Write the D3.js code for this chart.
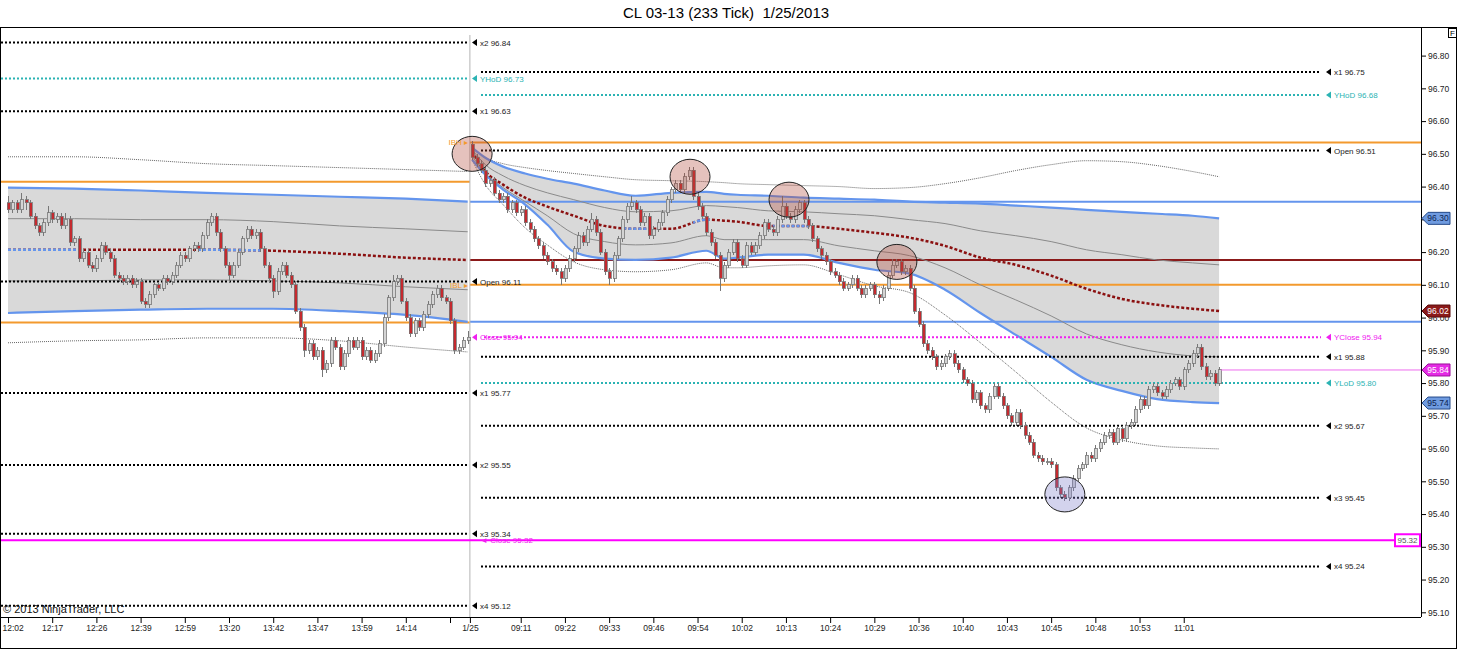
<!DOCTYPE html>
<html>
<head>
<meta charset="utf-8">
<script src="https://cdn.jsdelivr.net/npm/d3@7/dist/d3.min.js"></script>
<style>
body { margin: 0; background: #fff; }
text { font-family: "Liberation Sans", Arial, sans-serif; }
</style>
</head>
<body>
<script>
// ---- bars (233 tick), index 0..104 = 1/24 session, 105..274 = 1/25 session
var barOpen = [
 96.35,96.33,96.35,96.33,96.36,96.35,96.31,96.28,96.26,96.29,
 96.32,96.30,96.31,96.28,96.30,96.23,96.24,96.18,96.20,96.16,
 96.15,96.18,96.22,96.20,96.18,96.13,96.12,96.11,96.12,96.10,
 96.11,96.05,96.04,96.07,96.10,96.09,96.12,96.11,96.13,96.16,
 96.19,96.18,96.21,96.22,96.21,96.25,96.29,96.31,96.26,96.21,
 96.16,96.13,96.16,96.20,96.24,96.27,96.25,96.26,96.21,96.16,
 96.12,96.08,96.14,96.16,96.13,96.10,96.02,95.97,95.90,95.92,
 95.88,95.90,95.84,95.86,95.93,95.91,95.85,95.89,95.93,95.91,
 95.93,95.88,95.90,95.87,95.89,95.92,96.00,96.06,96.11,96.12,
 96.05,96.00,95.95,95.99,95.97,96.01,96.04,96.07,96.09,96.06,
 96.05,95.99,95.90,95.91,95.93,
 96.53,96.49,96.47,96.45,96.41,96.42,96.38,96.36,96.37,96.33,
 96.35,96.32,96.33,96.29,96.27,96.24,96.22,96.19,96.17,96.15,
 96.14,96.12,96.15,96.18,96.21,96.25,96.23,96.27,96.30,96.26,
 96.20,96.14,96.12,96.19,96.24,96.30,96.34,96.35,96.33,96.29,
 96.31,96.25,96.27,96.29,96.32,96.36,96.39,96.41,96.39,96.43,
 96.45,96.37,96.34,96.31,96.26,96.23,96.19,96.12,96.16,96.20,
 96.23,96.18,96.16,96.22,96.20,96.22,96.25,96.29,96.27,96.26,
 96.30,96.34,96.31,96.30,96.33,96.35,96.30,96.28,96.24,96.21,
 96.19,96.17,96.14,96.13,96.11,96.09,96.10,96.12,96.09,96.07,
 96.09,96.10,96.07,96.06,96.09,96.13,96.16,96.17,96.14,96.15,
 96.09,96.02,95.98,95.92,95.90,95.88,95.85,95.86,95.88,95.89,
 95.86,95.84,95.81,95.80,95.75,95.77,95.73,95.72,95.76,95.79,
 95.76,95.73,95.70,95.68,95.71,95.67,95.64,95.62,95.58,95.57,
 95.56,95.56,95.55,95.48,95.46,95.45,95.48,95.51,95.54,95.55,
 95.58,95.57,95.60,95.62,95.64,95.65,95.62,95.66,95.63,95.67,
 95.68,95.72,95.75,95.73,95.78,95.79,95.77,95.76,95.78,95.80,
 95.81,95.79,95.84,95.86,95.89,95.91,95.85,95.82,95.83,95.80
];
var barHigh = [
 96.37,96.36,96.36,96.38,96.37,96.36,96.32,96.29,96.30,96.34,
 96.33,96.32,96.32,96.32,96.31,96.25,96.25,96.21,96.21,96.17,
 96.19,96.23,96.23,96.21,96.19,96.14,96.13,96.13,96.13,96.12,
 96.12,96.06,96.08,96.11,96.11,96.13,96.13,96.14,96.17,96.20,
 96.20,96.22,96.23,96.23,96.26,96.30,96.32,96.32,96.27,96.22,
 96.17,96.17,96.21,96.25,96.28,96.28,96.27,96.27,96.22,96.17,
 96.13,96.15,96.17,96.17,96.14,96.11,96.03,95.98,95.93,95.93,
 95.91,95.91,95.87,95.94,95.94,95.92,95.90,95.94,95.94,95.94,
 95.94,95.91,95.91,95.90,95.93,96.01,96.07,96.13,96.13,96.13,
 96.06,96.01,96.00,96.00,96.02,96.05,96.08,96.10,96.10,96.07,
 96.06,96.00,95.92,95.94,95.96,
 96.54,96.50,96.48,96.46,96.43,96.43,96.39,96.38,96.38,96.36,
 96.36,96.34,96.34,96.30,96.28,96.25,96.23,96.20,96.18,96.16,
 96.15,96.16,96.19,96.22,96.26,96.26,96.28,96.32,96.31,96.27,
 96.21,96.15,96.20,96.25,96.31,96.35,96.37,96.36,96.34,96.32,
 96.32,96.28,96.30,96.33,96.37,96.40,96.42,96.42,96.44,96.46,
 96.46,96.38,96.35,96.32,96.27,96.24,96.20,96.17,96.21,96.24,
 96.24,96.19,96.23,96.23,96.23,96.26,96.30,96.30,96.28,96.31,
 96.37,96.35,96.32,96.34,96.36,96.36,96.31,96.29,96.25,96.22,
 96.20,96.18,96.15,96.14,96.12,96.11,96.13,96.13,96.10,96.10,
 96.11,96.11,96.08,96.10,96.14,96.18,96.18,96.18,96.16,96.16,
 96.10,96.03,95.99,95.93,95.91,95.89,95.87,95.89,95.90,95.90,
 95.87,95.85,95.82,95.81,95.78,95.78,95.74,95.77,95.80,95.80,
 95.77,95.74,95.71,95.72,95.72,95.68,95.65,95.63,95.59,95.58,
 95.57,95.57,95.56,95.49,95.47,95.49,95.52,95.55,95.56,95.59,
 95.59,95.61,95.63,95.65,95.66,95.66,95.67,95.67,95.68,95.69,
 95.73,95.76,95.76,95.79,95.80,95.80,95.78,95.79,95.81,95.82,
 95.82,95.85,95.87,95.90,95.92,95.92,95.86,95.84,95.84,95.85
];
var barLow = [
 96.32,96.32,96.32,96.32,96.33,96.30,96.27,96.25,96.25,96.28,
 96.29,96.29,96.27,96.27,96.22,96.22,96.17,96.17,96.15,96.14,
 96.14,96.17,96.19,96.17,96.12,96.11,96.10,96.10,96.09,96.09,
 96.04,96.03,96.03,96.06,96.08,96.08,96.10,96.10,96.12,96.15,
 96.17,96.17,96.20,96.20,96.20,96.24,96.28,96.25,96.20,96.15,
 96.11,96.12,96.15,96.19,96.23,96.24,96.24,96.20,96.15,96.11,
 96.06,96.07,96.13,96.12,96.09,96.01,95.96,95.88,95.89,95.87,
 95.87,95.82,95.83,95.85,95.90,95.84,95.84,95.88,95.90,95.90,
 95.87,95.87,95.86,95.86,95.88,95.91,95.99,96.05,96.10,96.04,
 95.99,95.94,95.94,95.96,95.96,96.00,96.03,96.06,96.05,96.04,
 95.98,95.89,95.89,95.90,95.92,
 96.48,96.46,96.44,96.40,96.40,96.37,96.35,96.35,96.32,96.32,
 96.31,96.31,96.28,96.26,96.23,96.21,96.18,96.16,96.14,96.13,
 96.10,96.11,96.14,96.17,96.20,96.22,96.22,96.26,96.25,96.19,
 96.13,96.10,96.11,96.18,96.23,96.29,96.33,96.32,96.28,96.28,
 96.24,96.24,96.26,96.28,96.31,96.35,96.38,96.38,96.38,96.42,
 96.36,96.33,96.30,96.25,96.22,96.18,96.08,96.11,96.15,96.19,
 96.17,96.15,96.15,96.19,96.19,96.21,96.24,96.26,96.25,96.25,
 96.29,96.30,96.29,96.29,96.32,96.29,96.27,96.23,96.20,96.18,
 96.16,96.13,96.12,96.10,96.08,96.08,96.09,96.08,96.06,96.06,
 96.08,96.06,96.04,96.05,96.08,96.12,96.15,96.13,96.13,96.08,
 96.01,95.97,95.91,95.89,95.87,95.84,95.84,95.85,95.87,95.85,
 95.83,95.80,95.79,95.74,95.74,95.72,95.71,95.71,95.75,95.75,
 95.72,95.69,95.67,95.67,95.66,95.63,95.61,95.57,95.56,95.55,
 95.55,95.54,95.47,95.45,95.44,95.44,95.47,95.50,95.53,95.54,
 95.56,95.56,95.59,95.61,95.63,95.61,95.61,95.62,95.62,95.66,
 95.67,95.71,95.72,95.72,95.77,95.76,95.75,95.75,95.77,95.79,
 95.78,95.78,95.83,95.85,95.88,95.84,95.81,95.81,95.79,95.79
];
var barClose = [
 96.33,96.35,96.33,96.36,96.35,96.31,96.28,96.26,96.29,96.32,
 96.30,96.31,96.28,96.30,96.23,96.24,96.18,96.20,96.16,96.15,
 96.18,96.22,96.20,96.18,96.13,96.12,96.11,96.12,96.10,96.11,
 96.05,96.04,96.07,96.10,96.09,96.12,96.11,96.13,96.16,96.19,
 96.18,96.21,96.22,96.21,96.25,96.29,96.31,96.26,96.21,96.16,
 96.13,96.16,96.20,96.24,96.27,96.25,96.26,96.21,96.16,96.12,
 96.08,96.14,96.16,96.13,96.10,96.02,95.97,95.90,95.92,95.88,
 95.90,95.84,95.86,95.93,95.91,95.85,95.89,95.93,95.91,95.93,
 95.88,95.90,95.87,95.89,95.92,96.00,96.06,96.11,96.12,96.05,
 96.00,95.95,95.99,95.97,96.01,96.04,96.07,96.09,96.06,96.05,
 95.99,95.90,95.91,95.93,95.94,
 96.49,96.47,96.45,96.41,96.42,96.38,96.36,96.37,96.33,96.35,
 96.32,96.33,96.29,96.27,96.24,96.22,96.19,96.17,96.15,96.14,
 96.12,96.15,96.18,96.21,96.25,96.23,96.27,96.30,96.26,96.20,
 96.14,96.12,96.19,96.24,96.30,96.34,96.35,96.33,96.29,96.31,
 96.25,96.27,96.29,96.32,96.36,96.39,96.41,96.39,96.43,96.45,
 96.37,96.34,96.31,96.26,96.23,96.19,96.12,96.16,96.20,96.23,
 96.18,96.16,96.22,96.20,96.22,96.25,96.29,96.27,96.26,96.30,
 96.34,96.31,96.30,96.33,96.35,96.30,96.28,96.24,96.21,96.19,
 96.17,96.14,96.13,96.11,96.09,96.10,96.12,96.09,96.07,96.09,
 96.10,96.07,96.06,96.09,96.13,96.16,96.17,96.14,96.15,96.09,
 96.02,95.98,95.92,95.90,95.88,95.85,95.86,95.88,95.89,95.86,
 95.84,95.81,95.80,95.75,95.77,95.73,95.72,95.76,95.79,95.76,
 95.73,95.70,95.68,95.71,95.67,95.64,95.62,95.58,95.57,95.56,
 95.56,95.55,95.48,95.46,95.45,95.48,95.51,95.54,95.55,95.58,
 95.57,95.60,95.62,95.64,95.65,95.62,95.66,95.63,95.67,95.68,
 95.72,95.75,95.73,95.78,95.79,95.77,95.76,95.78,95.80,95.81,
 95.79,95.84,95.86,95.89,95.91,95.85,95.82,95.83,95.80,95.84
];

// ---- VWAP bands, 1/24 session (sampled at bar index)
var prevIdx     = [0, 15, 30, 45, 60, 75, 90, 104];
var prevOuterUp = [96.491,96.491,96.482,96.470,96.464,96.458,96.452,96.446];
var prevBandUp  = [96.397,96.394,96.388,96.381,96.375,96.369,96.363,96.354];
var prevInnerUp = [96.302,96.302,96.299,96.299,96.293,96.280,96.271,96.262];
var prevMid     = [96.207,96.207,96.207,96.207,96.204,96.195,96.183,96.176];
var prevInnerLo = [96.112,96.112,96.115,96.115,96.112,96.106,96.094,96.085];
var prevBandLo  = [96.014,96.020,96.024,96.027,96.027,96.020,96.008,95.987];
var prevOuterLo = [95.923,95.929,95.932,95.938,95.938,95.929,95.910,95.895];

// ---- VWAP bands, 1/25 session
var curIdx     = [105,108,112,117,122,128,135,142,150,158,162,165,172,180,188,196,204,212,220,228,236,244,252,260,268,274];
var curOuterUp = [96.519,96.488,96.470,96.458,96.449,96.440,96.430,96.421,96.418,96.415,96.412,96.409,96.406,96.403,96.400,96.394,96.397,96.409,96.427,96.449,96.467,96.479,96.476,96.464,96.446,96.430];
var curBandUp  = [96.519,96.488,96.461,96.440,96.424,96.409,96.388,96.372,96.381,96.384,96.378,96.375,96.372,96.366,96.363,96.360,96.354,96.351,96.348,96.342,96.336,96.329,96.323,96.317,96.311,96.303];
var curInnerUp = [96.513,96.467,96.433,96.403,96.381,96.360,96.336,96.323,96.326,96.342,96.339,96.336,96.326,96.323,96.317,96.311,96.299,96.287,96.265,96.250,96.232,96.207,96.192,96.176,96.167,96.161];
var curMid     = [96.507,96.446,96.406,96.366,96.339,96.311,96.280,96.271,96.271,96.299,96.296,96.293,96.280,96.280,96.271,96.259,96.244,96.219,96.183,96.161,96.128,96.088,96.057,96.039,96.027,96.020];
var curInnerLo = [96.494,96.440,96.397,96.354,96.311,96.256,96.232,96.222,96.228,96.250,96.238,96.238,96.238,96.238,96.219,96.204,96.189,96.152,96.100,96.054,96.005,95.950,95.917,95.895,95.883,95.880];
var curBandLo  = [96.482,96.436,96.391,96.345,96.284,96.201,96.180,96.176,96.183,96.204,96.180,96.183,96.192,96.192,96.167,96.146,96.134,96.085,96.014,95.947,95.880,95.810,95.776,95.751,95.742,95.739];
var curOuterLo = [96.482,96.406,96.345,96.274,96.222,96.170,96.146,96.140,96.146,96.167,96.152,96.152,96.158,96.161,96.131,96.097,96.076,96.008,95.923,95.834,95.742,95.663,95.626,95.608,95.602,95.599];

// stretches (bar index) where the VWAP line is painted blue
var vwapUpRanges = [[0,16],[43,57],[139,146],[155,159],[173,181]];

// ---- price levels
var prevLevelPrice = [96.84, 96.73, 96.63, 96.11, 95.77, 95.55, 95.34, 95.12];
var prevLevelName  = ["x2", "YHoD", "x1", "Open", "x1", "x2", "x3", "x4"];
var curLevelPrice  = [96.75, 96.68, 96.51, 95.94, 95.88, 95.80, 95.67, 95.45, 95.24];
var curLevelName   = ["x1", "YHoD", "Open", "YClose", "x1", "YLoD", "x2", "x3", "x4"];
var prevIB = [96.415, 95.985];
var curIB  = [96.535, 96.10];
var prevClose = 95.94;
var userLine = 95.32;

// ---- circled swing points
var markIdx   = [105, 154.3, 176.7, 201.1, 239.1];
var markPrice = [96.50, 96.43, 96.36, 96.17, 95.46];
var markKind  = ["high", "high", "high", "high", "low"];

// ---- axes
var yTicks = [95.10,95.20,95.30,95.40,95.50,95.60,95.70,95.80,95.90,96.00,96.10,96.20,96.30,96.40,96.50,96.60,96.70,96.80];
var xTickIdx = [0,10,20,30,40,50,60,70,80,90,100,104.5,116,126,136,146,156,166,176,186,196,206,216,226,236,246,256,266];
var xTickLabel = ["12:02","12:17","12:26","12:39","12:59","13:20","13:42","13:47","13:59","14:14","","1/25",
  "09:11","09:22","09:33","09:46","09:54","10:02","10:13","10:24","10:29","10:36","10:40","10:43","10:45","10:48","10:53","11:01"];

var width = 1460, height = 650;
var plotL = 1, plotR = 1421, plotT = 27, plotB = 617;

var svg = d3.select("body").append("svg")
    .attr("width", width)
    .attr("height", height);

var x = d3.scaleLinear().domain([0, 274]).range([8, 1219.1]);
var y = d3.scaleLinear().domain([95.10, 96.80]).range([612.3, 55.6]);
var fmt = d3.format(".2f");

// frame
svg.append("rect").attr("x", 0.5).attr("y", 27.5).attr("width", 1456).attr("height", 621)
    .attr("fill", "none").attr("stroke", "#000");

svg.append("text").attr("x", 726).attr("y", 18).attr("text-anchor", "middle")
    .attr("xml:space", "preserve")
    .style("font-size", "15px").text("CL 03-13 (233 Tick)\u00A0\u00A01/25/2013");

// small "F" box
svg.append("rect").attr("x", 1448.5).attr("y", 28.5).attr("width", 8).attr("height", 9)
    .attr("fill", "#fff").attr("stroke", "#000");
svg.append("text").attr("x", 1452.5).attr("y", 36).attr("text-anchor", "middle")
    .style("font-size", "8px").text("F");

svg.append("clipPath").attr("id", "plotclip").append("rect")
    .attr("x", plotL).attr("y", plotT + 1).attr("width", plotR - plotL).attr("height", plotB - plotT - 1);
var plot = svg.append("g").attr("clip-path", "url(#plotclip)");

// bands
function bandPath(idx, vals) {
    return d3.line().x(function (d, k) { return x(idx[k]); })
        .y(function (d) { return y(d); })
        .curve(d3.curveMonotoneX)(vals);
}
function bandFill(idx, up, lo) {
    return d3.area().x(function (d, k) { return x(idx[k]); })
        .y0(function (d, k) { return y(lo[k]); })
        .y1(function (d) { return y(d); })
        .curve(d3.curveMonotoneX)(up);
}

var sessions = [
    {idx: prevIdx, ou: prevOuterUp, bu: prevBandUp, iu: prevInnerUp, m: prevMid, il: prevInnerLo, bl: prevBandLo, ol: prevOuterLo},
    {idx: curIdx, ou: curOuterUp, bu: curBandUp, iu: curInnerUp, m: curMid, il: curInnerLo, bl: curBandLo, ol: curOuterLo}
];

sessions.forEach(function (s) {
    plot.append("path").attr("d", bandFill(s.idx, s.bu, s.bl)).attr("fill", "#d9d9d9");
});

// horizontal solid lines: prior IB and prior-session band ends carried forward
var sepX = x(104.5);
function hline(price, x1, x2, color, w) {
    plot.append("line").attr("x1", x1).attr("x2", x2).attr("y1", y(price)).attr("y2", y(price))
        .attr("stroke", color).attr("stroke-width", w);
}
hline(prevIB[0], plotL, sepX, "#f39a2e", 2);
hline(prevIB[1], plotL, sepX, "#f39a2e", 2);
hline(curIB[0], sepX, plotR, "#f39a2e", 2);
hline(curIB[1], sepX, plotR, "#f39a2e", 2);
hline(prevBandUp[prevBandUp.length - 1], sepX, plotR, "#6495ed", 2);
hline(prevBandLo[prevBandLo.length - 1], sepX, plotR, "#6495ed", 2);
hline(prevMid[prevMid.length - 1], sepX, plotR, "#8b1a1a", 2);

sessions.forEach(function (s) {
    [s.ou, s.ol].forEach(function (v) {
        plot.append("path").attr("d", bandPath(s.idx, v)).attr("fill", "none")
            .attr("stroke", "#666").attr("stroke-width", 1).attr("stroke-dasharray", "1,1");
    });
    [s.iu, s.il].forEach(function (v) {
        plot.append("path").attr("d", bandPath(s.idx, v)).attr("fill", "none")
            .attr("stroke", "#8a8a8a").attr("stroke-width", 1);
    });
    [s.bu, s.bl].forEach(function (v) {
        plot.append("path").attr("d", bandPath(s.idx, v)).attr("fill", "none")
            .attr("stroke", "#6495ed").attr("stroke-width", 2.2);
    });
    plot.append("path").attr("d", bandPath(s.idx, s.m)).attr("fill", "none")
        .attr("stroke", "#8b1010").attr("stroke-width", 2.5).attr("stroke-dasharray", "3,2");
});

// blue stretches of the VWAP line
vwapUpRanges.forEach(function (r, k) {
    var id = "vup" + k;
    svg.append("clipPath").attr("id", id).append("rect")
        .attr("x", x(r[0])).attr("width", x(r[1]) - x(r[0])).attr("y", plotT).attr("height", plotB - plotT);
    var s = r[0] < 105 ? sessions[0] : sessions[1];
    plot.append("path").attr("d", bandPath(s.idx, s.m)).attr("clip-path", "url(#" + id + ")")
        .attr("fill", "none").attr("stroke", "#6495ed").attr("stroke-width", 2.5).attr("stroke-dasharray", "3,2");
});

// dotted levels
function levelColor(name) {
    if (name == "YHoD" || name == "YLoD") return "#2bb3b3";
    if (name.indexOf("Close") >= 0) return "#f020f0";
    return "#000";
}
function levelLabel(px, price, txt, color) {
    var yy = y(price);
    svg.append("path").attr("d", "M" + px + "," + yy + " l5,-3.5 l0,7 Z").attr("fill", color);
    svg.append("text").attr("x", px + 8).attr("y", yy + 3).attr("fill", color == "#000" ? "#222" : color)
        .style("font-size", "8px").text(txt);
}
prevLevelPrice.forEach(function (p, k) {
    var c = levelColor(prevLevelName[k]);
    plot.append("line").attr("x1", plotL).attr("x2", sepX - 1).attr("y1", y(p)).attr("y2", y(p))
        .attr("stroke", c).attr("stroke-width", 2).attr("stroke-dasharray", "2,2");
    levelLabel(472, p, prevLevelName[k] + " " + fmt(p), c);
});
curLevelPrice.forEach(function (p, k) {
    var c = levelColor(curLevelName[k]);
    var x1 = curLevelName[k] == "YClose" ? 484 : 481;
    plot.append("line").attr("x1", x1).attr("x2", 1321).attr("y1", y(p)).attr("y2", y(p))
        .attr("stroke", c).attr("stroke-width", 2).attr("stroke-dasharray", "2,2");
    levelLabel(1326, p, curLevelName[k] + " " + fmt(p), c);
});
levelLabel(472, prevClose, "Close " + fmt(prevClose), "#f020f0");

// IB tags
[[curIB[0], "IBH"], [curIB[1], "IBL"]].forEach(function (t) {
    svg.append("text").attr("x", 468).attr("y", y(t[0]) + 3).attr("text-anchor", "end")
        .attr("fill", "#f39a2e").style("font-size", "8px").text(t[1] + " \u25B8");
});

// session break
plot.append("line").attr("x1", sepX).attr("x2", sepX).attr("y1", 35).attr("y2", plotB)
    .attr("stroke", "#b4b4b4").attr("stroke-width", 1);

// user line 95.32
plot.append("line").attr("x1", plotL).attr("x2", 1395).attr("y1", y(userLine)).attr("y2", y(userLine))
    .attr("stroke", "#ff00ff").attr("stroke-width", 2);
svg.append("text").attr("x", 480).attr("y", y(userLine) + 3).attr("fill", "#f020f0")
    .style("font-size", "8px").text("\u25C4 Close " + fmt(userLine));

// candles
var bars = barClose.map(function (c, i) {
    return {i: i, o: barOpen[i], h: barHigh[i], l: barLow[i], c: c};
});
var cg = plot.append("g").attr("shape-rendering", "crispEdges");
cg.selectAll(".wick").data(bars).enter().append("line")
    .attr("class", "wick")
    .attr("x1", function (d) { return Math.round(x(d.i)) + 0.5; })
    .attr("x2", function (d) { return Math.round(x(d.i)) + 0.5; })
    .attr("y1", function (d) { return y(d.h); })
    .attr("y2", function (d) { return y(d.l); })
    .attr("stroke", "#777");
cg.selectAll(".body").data(bars).enter().append("rect")
    .attr("class", "body")
    .attr("x", function (d) { return Math.round(x(d.i)) - 1; })
    .attr("width", 3)
    .attr("y", function (d) { return y(Math.max(d.o, d.c)); })
    .attr("height", function (d) { return Math.max(1, Math.abs(y(d.o) - y(d.c))); })
    .attr("fill", function (d) { return d.c >= d.o ? "#d4d4d4" : "#c42a2f"; })
    .attr("stroke", "#777").attr("stroke-width", 0.8);

// circles
markIdx.forEach(function (m, k) {
    plot.append("ellipse").attr("cx", x(m)).attr("cy", y(markPrice[k])).attr("rx", 20).attr("ry", 17.5)
        .attr("fill", markKind[k] == "high" ? "rgba(175,70,55,0.33)" : "rgba(120,120,200,0.33)")
        .attr("stroke", "#222").attr("stroke-width", 1);
});

// last price line
var last = barClose[barClose.length - 1];
plot.append("line").attr("x1", x(274) + 2).attr("x2", plotR).attr("y1", y(last)).attr("y2", y(last))
    .attr("stroke", "#ee6cee").attr("stroke-width", 1);

// axes
var yAxis = d3.axisRight(y).tickValues(yTicks).tickFormat(fmt).tickSize(5).tickPadding(2);
var ya = svg.append("g").attr("transform", "translate(" + plotR + ",0)").call(yAxis);
ya.select(".domain").remove();
ya.selectAll("text").style("font-size", "8.5px").attr("fill", "#222");
svg.append("line").attr("x1", plotR + 0.5).attr("x2", plotR + 0.5).attr("y1", plotT).attr("y2", plotB)
    .attr("stroke", "#000");

var xAxis = d3.axisBottom(x).tickValues(xTickIdx)
    .tickFormat(function (d, k) { return xTickLabel[k]; }).tickSize(6).tickPadding(2);
var xa = svg.append("g").attr("transform", "translate(0," + plotB + ")").call(xAxis);
xa.select(".domain").remove();
xa.selectAll("text").style("font-size", "8.5px").attr("fill", "#222");
// first label sits against the left edge
xa.selectAll("text").filter(function (d, k) { return k === 0; })
    .attr("text-anchor", "start").attr("x", -6);
svg.append("line").attr("x1", 0).attr("x2", plotR).attr("y1", plotB + 0.5).attr("y2", plotB + 0.5)
    .attr("stroke", "#000");

// axis price tags
function axisTag(price, fill, stroke, txtColor) {
    var yy = y(price);
    svg.append("path")
        .attr("d", "M" + (plotR + 1) + "," + yy + " L" + (plotR + 7) + "," + (yy - 6) + " H1450 V" + (yy + 6) + " H" + (plotR + 7) + " Z")
        .attr("fill", fill).attr("stroke", stroke).attr("stroke-width", 1);
    svg.append("text").attr("x", 1438).attr("y", yy + 3).attr("text-anchor", "middle")
        .attr("fill", txtColor).style("font-size", "8.5px").text(fmt(price));
}
axisTag(curBandUp[curBandUp.length - 1], "#6f9be0", "#244a8a", "#0d2450");
axisTag(curMid[curMid.length - 1], "#8b1a1a", "#5a0c0c", "#fff");
axisTag(last, "#e52ae5", "#9a119a", "#fff");
axisTag(curBandLo[curBandLo.length - 1], "#6f9be0", "#244a8a", "#0d2450");

// user line tag
svg.append("rect").attr("x", 1395).attr("y", y(userLine) - 6).attr("width", 25).attr("height", 12)
    .attr("fill", "#fff").attr("stroke", "#ff00ff").attr("stroke-width", 2);
svg.append("text").attr("x", 1407.5).attr("y", y(userLine) + 3).attr("text-anchor", "middle")
    .attr("fill", "#555").style("font-size", "8px").text(fmt(userLine));

svg.append("text").attr("x", 3).attr("y", 613).style("font-size", "11px").attr("fill", "#111")
    .text("\u00A9 2013 NinjaTrader, LLC");
</script>
</body>
</html>
